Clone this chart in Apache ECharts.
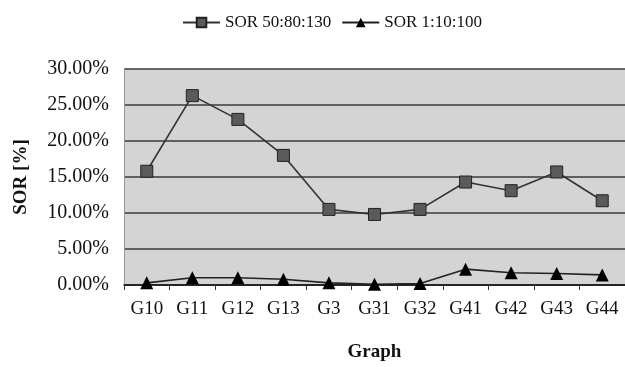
<!DOCTYPE html>
<html><head><meta charset="utf-8">
<script src="https://cdn.jsdelivr.net/npm/echarts@6/dist/echarts.min.js"></script>
<style>html,body{margin:0;padding:0;background:#fff}#c{width:625px;height:367px}</style>
</head><body><div id="c"></div>
<script>
const categories = ['G10','G11','G12','G13','G3','G31','G32','G41','G42','G43','G44'];
const sor50 = [15.8, 26.3, 23.0, 18.0, 10.5, 9.8, 10.5, 14.3, 13.1, 15.7, 11.7];
const sor1 = [0.3, 1.0, 1.0, 0.8, 0.3, 0.1, 0.2, 2.2, 1.7, 1.6, 1.4];
const seriesNames = ['SOR 50:80:130', 'SOR 1:10:100'];
const yTicks = [0, 5, 10, 15, 20, 25, 30];

const font = '"Liberation Serif", "Times New Roman", serif';
const chart = echarts.init(document.getElementById('c'));
chart.setOption({
  animation: false,
  textStyle: {fontFamily: font},
  legend: {
    left: 177, top: 9, itemGap: 10, itemWidth: 37, itemHeight: 12,
    textStyle: {fontFamily: font, fontSize: 17, color: '#111'},
    data: seriesNames
  },
  grid: {left: 124, top: 69, width: 506, height: 222, show: true, backgroundColor: '#d4d4d4', borderWidth: 0},
  xAxis: {
    type: 'category', data: categories, boundaryGap: true,
    name: 'Graph', nameLocation: 'middle', nameGap: 58,
    nameTextStyle: {fontFamily: font, fontSize: 19, fontWeight: 'bold', color: '#111'},
    axisLine: {lineStyle: {color: '#111', width: 1.5}},
    axisTick: {show: true, length: 5, lineStyle: {color: '#333'}},
    axisLabel: {fontFamily: font, fontSize: 19, color: '#111', margin: 15}
  },
  yAxis: {
    type: 'value', min: yTicks[0], max: yTicks[yTicks.length-1], interval: 5,
    name: 'SOR [%]', nameLocation: 'middle', nameGap: 93, nameRotate: 90,
    nameTextStyle: {fontFamily: font, fontSize: 19, fontWeight: 'bold', color: '#111'},
    axisLine: {show: true, lineStyle: {color: '#999', width: 1}},
    axisTick: {show: false},
    axisLabel: {fontFamily: font, fontSize: 20, color: '#111', margin: 15,
      formatter: v => v.toFixed(2) + '%'},
    splitLine: {lineStyle: {color: '#3a3a3a', width: 1.5}}
  },
  series: [
    {
      name: seriesNames[0], type: 'line', data: sor50,
      symbol: 'rect', symbolSize: 12,
      lineStyle: {color: '#333', width: 1.6},
      itemStyle: {color: '#5a5a5a', borderColor: '#222', borderWidth: 1}
    },
    {
      name: seriesNames[1], type: 'line', data: sor1,
      symbol: 'triangle', symbolSize: 13,
      lineStyle: {color: '#222', width: 1.6},
      itemStyle: {color: '#000'}
    }
  ]
});
</script>
</body></html>
